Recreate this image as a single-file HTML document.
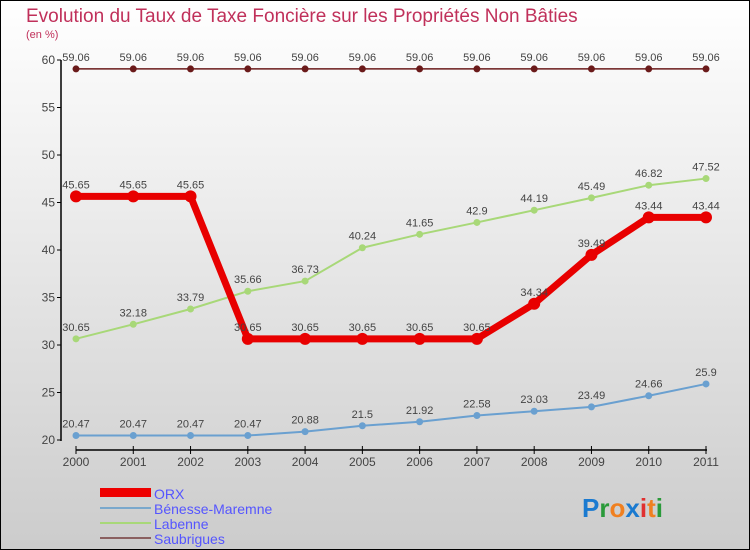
<!DOCTYPE html>
<html><head><meta charset="utf-8"><style>
body{margin:0}
#c{width:750px;height:550px;position:relative;box-sizing:border-box;border:1px solid #000;background:linear-gradient(#fff,#ccc);font-family:"Liberation Sans",sans-serif;overflow:hidden}
</style></head><body>
<div id="c">
<svg id="s" width="750" height="550" style="position:absolute;left:-1px;top:-1px">
<text x="26" y="22" font-size="19" fill="#c0305a">Evolution du Taux de Taxe Foncière sur les Propriétés Non Bâties</text>
<text x="26" y="38" font-size="11" fill="#c0305a">(en %)</text>
<line x1="61" y1="60" x2="61" y2="441" stroke="#000" stroke-width="1.5"/>
<line x1="76" y1="450" x2="707" y2="450" stroke="#000" stroke-width="1.5"/>
<g id="ax"></g><g id="series"></g>
<g>
<rect x="100" y="488" width="51" height="9" fill="#e00"/>
<text x="154" y="499" font-size="14" fill="#55f">ORX</text>
<rect x="100" y="507" width="51" height="2" fill="#7aa8cc"/>
<text x="154" y="514" font-size="14" fill="#55f">Bénesse-Maremne</text>
<rect x="100" y="522" width="51" height="2" fill="#a8d878"/>
<text x="154" y="529" font-size="14" fill="#55f">Labenne</text>
<rect x="100" y="537" width="51" height="2" fill="#8a6060"/>
<text x="154" y="544" font-size="14" fill="#55f">Saubrigues</text>
</g>
<text x="582" y="517" font-size="26" font-weight="bold"><tspan fill="#1a7ad0">P</tspan><tspan fill="#2a9a3a">r</tspan><tspan fill="#f08020">o</tspan><tspan fill="#1a7ad0">x</tspan><tspan fill="#e03030">i</tspan><tspan fill="#f08020">t</tspan><tspan fill="#2a9a3a">i</tspan></text>
</svg></div>
<script>
const years=[2000,2001,2002,2003,2004,2005,2006,2007,2008,2009,2010,2011];
const yTicks=[20,25,30,35,40,45,50,55,60];
const orx=[45.65,45.65,45.65,30.65,30.65,30.65,30.65,30.65,34.34,39.49,43.44,43.44];
const benesse=[20.47,20.47,20.47,20.47,20.88,21.5,21.92,22.58,23.03,23.49,24.66,25.9];
const labenne=[30.65,32.18,33.79,35.66,36.73,40.24,41.65,42.9,44.19,45.49,46.82,47.52];
const saubrigues=[59.06,59.06,59.06,59.06,59.06,59.06,59.06,59.06,59.06,59.06,59.06,59.06];
const NS="http://www.w3.org/2000/svg";
const X=i=>76+i*(630/11);
const Y=v=>440-(v-20)*9.5;
function mk(t,a,p){const e=document.createElementNS(NS,t);for(const k in a)e.setAttribute(k,a[k]);p.appendChild(e);return e;}
const ax=document.getElementById('ax');
yTicks.forEach(v=>{
 const l=mk('line',{x1:57,x2:61,y1:Y(v),y2:Y(v),stroke:'#000'},ax);
 
 
 const t=mk('text',{x:55,y:Y(v)+4,'font-size':12,'text-anchor':'end',fill:'#444'},ax);
 
 
 t.textContent=v;
});
years.forEach((y,i)=>{
 const l=mk('line',{x1:X(i),x2:X(i),y1:446,y2:454,stroke:'#000'},ax);
 
 
 const t=mk('text',{x:X(i),y:466,'font-size':12,'text-anchor':'middle',fill:'#444'},ax);
 
 
 t.textContent=y;
});
const sg=document.getElementById('series');
function series(data,color,w,r,name){
 const g=mk('g',{},sg);
 
 
 const pl=mk('polyline',{points:data.map((v,i)=>X(i)+','+Y(v)).join(' '),fill:'none',stroke:color,'stroke-width':w,'stroke-linejoin':'round'},g);
 
 
 data.forEach((v,i)=>{
  const c=mk('circle',{cx:X(i),cy:Y(v),r:r,fill:color},g);
  
  
  const t=mk('text',{x:X(i),y:Y(v)-8,'font-size':11,'text-anchor':'middle',fill:'#444'},g);
  
  
  t.textContent=v;
 });
}
series(saubrigues,'#6a1a1a',1.5,3.5,'saubrigues');
series(labenne,'#a8d878',2,3.5,'labenne');
series(benesse,'#6aa0d0',2,3.5,'benesse');
series(orx,'#e80000',7,6,'orx');
</script>
</body></html>
